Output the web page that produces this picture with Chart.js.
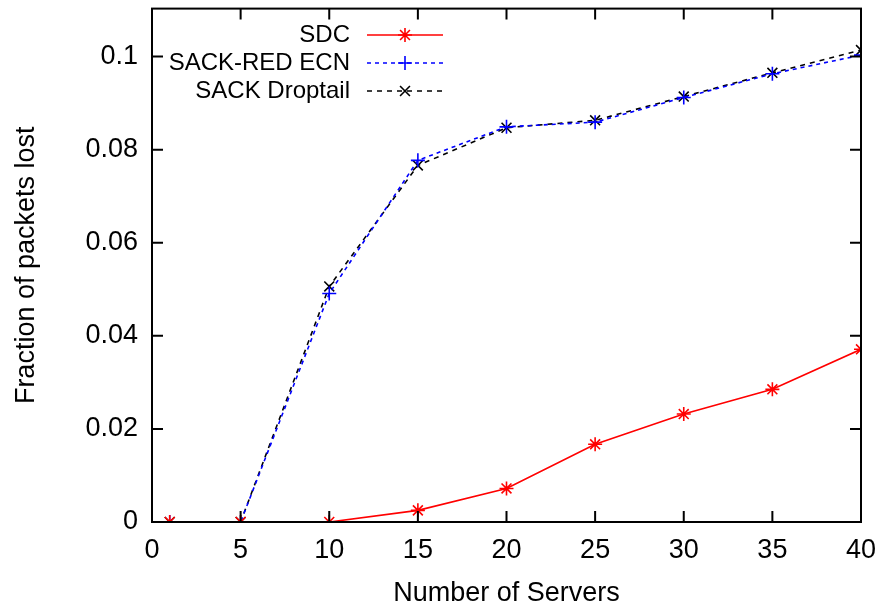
<!DOCTYPE html>
<html>
<head>
<meta charset="utf-8">
<script src="https://cdn.jsdelivr.net/npm/chart.js@4/dist/chart.umd.min.js"></script>
<style>
  html, body { margin: 0; padding: 0; background: #fff; }
  #wrap { width: 880px; height: 610px; }
</style>
</head>
<body>
<div id="wrap"><canvas id="myChart" width="880" height="610"></canvas></div>
<script>
// Data
const servers = [1, 5, 10, 15, 20, 25, 30, 35, 40];
const sdc = [0, 0, 0, 0.0025, 0.0072, 0.0167, 0.0232, 0.0285, 0.0371];
const sackRedEcn = [0, 0, 0.0491, 0.0777, 0.0849, 0.0859, 0.0912, 0.0963, 0.1003];
const sackDroptail = [0, 0, 0.0506, 0.0766, 0.0847, 0.0863, 0.0914, 0.0965, 0.1014];
const xTicks = [0, 5, 10, 15, 20, 25, 30, 35, 40];
const yTicks = [0, 0.02, 0.04, 0.06, 0.08, 0.1];

const FONT = '"Liberation Sans", Arial, sans-serif';

function toPoints(ys) {
    return servers.map((x, i) => ({ x: x, y: ys[i] }));
}

function noPad(s) {
    s.paddingTop = 0; s.paddingBottom = 0;
    s.paddingLeft = 0; s.paddingRight = 0;
}

// frame, inward ticks on all four sides, and the gnuplot style key
const framePlugin = {
    id: 'frame',
    afterDatasetsDraw(chart) {
        const ctx = chart.ctx;
        const a = chart.chartArea;
        const xs = chart.scales.x, ys = chart.scales.y;
        const tl = 11;
        ctx.save();
        ctx.strokeStyle = '#000';
        ctx.lineWidth = 2;
        ctx.setLineDash([]);
        ctx.strokeRect(a.left, a.top, a.right - a.left, a.bottom - a.top);
        ctx.beginPath();
        xTicks.forEach(v => {
            const px = xs.getPixelForValue(v);
            ctx.moveTo(px, a.bottom); ctx.lineTo(px, a.bottom - tl);
            ctx.moveTo(px, a.top); ctx.lineTo(px, a.top + tl);
        });
        yTicks.forEach(v => {
            const py = ys.getPixelForValue(v);
            ctx.moveTo(a.left, py); ctx.lineTo(a.left + tl, py);
            ctx.moveTo(a.right, py); ctx.lineTo(a.right - tl, py);
        });
        ctx.stroke();

        // key
        const textRight = 350, lineL = 367, lineR = 443;
        const rowY = [35, 63, 91];
        ctx.font = '24px ' + FONT;
        ctx.textAlign = 'right';
        ctx.textBaseline = 'middle';
        chart.data.datasets.forEach((ds, i) => {
            const y = rowY[i];
            ctx.fillStyle = '#000';
            ctx.fillText(ds.label, textRight, y);
            ctx.strokeStyle = ds.borderColor;
            ctx.lineWidth = ds.borderWidth;
            ctx.setLineDash(ds.borderDash || []);
            ctx.beginPath();
            ctx.moveTo(lineL, y); ctx.lineTo(lineR, y);
            ctx.stroke();
            ctx.setLineDash([]);
            Chart.helpers.drawPoint(ctx, {
                pointStyle: ds.pointStyle, radius: ds.pointRadius, rotation: 0,
                borderWidth: ds.pointBorderWidth
            }, (lineL + lineR) / 2, y);
        });
        ctx.restore();
    }
};

const ctx = document.getElementById('myChart').getContext('2d');
new Chart(ctx, {
    type: 'line',
    data: {
        datasets: [
            {
                label: 'SDC',
                data: toPoints(sdc),
                borderColor: '#ff0000',
                backgroundColor: '#ff0000',
                borderWidth: 1.6,
                pointStyle: 'star',
                pointRadius: 7,
                pointBorderWidth: 1.6,
                pointBorderColor: '#ff0000'
            },
            {
                label: 'SACK-RED ECN',
                data: toPoints(sackRedEcn),
                borderColor: '#0000ff',
                backgroundColor: '#0000ff',
                borderWidth: 1.6,
                borderDash: [4, 4],
                pointStyle: 'cross',
                pointRadius: 7,
                pointBorderWidth: 1.6,
                pointBorderColor: '#0000ff'
            },
            {
                label: 'SACK Droptail',
                data: toPoints(sackDroptail),
                borderColor: '#000000',
                backgroundColor: '#000000',
                borderWidth: 1.6,
                borderDash: [5, 5],
                pointStyle: 'crossRot',
                pointRadius: 7,
                pointBorderWidth: 1.6,
                pointBorderColor: '#000000'
            }
        ]
    },
    options: {
        responsive: false,
        animation: false,
        layout: { padding: { top: 8, right: 19, left: 0, bottom: 0 } },
        plugins: {
            legend: { display: false },
            tooltip: { enabled: false }
        },
        scales: {
            x: {
                type: 'linear',
                min: 0,
                max: 40,
                afterFit: s => { s.height = 88; noPad(s); },
                afterBuildTicks: s => { s.ticks = xTicks.map(v => ({ value: v })); },
                grid: { display: false, drawTicks: false },
                border: { display: false },
                ticks: {
                    color: '#000',
                    padding: 12,
                    font: { family: FONT, size: 27 },
                    maxRotation: 0
                },
                title: {
                    display: true,
                    text: 'Number of Servers',
                    color: '#000',
                    font: { family: FONT, size: 27 },
                    padding: { top: 0, bottom: 0 }
                }
            },
            y: {
                type: 'linear',
                min: 0,
                max: 0.1103,
                afterFit: s => { s.width = 152; noPad(s); },
                afterBuildTicks: s => { s.ticks = yTicks.map(v => ({ value: v })); },
                grid: { display: false, drawTicks: false },
                border: { display: false },
                ticks: {
                    color: '#000',
                    padding: 14,
                    font: { family: FONT, size: 27 },
                    callback: v => String(Math.round(v * 100) / 100)
                },
                title: {
                    display: true,
                    text: 'Fraction of packets lost',
                    color: '#000',
                    font: { family: FONT, size: 27 },
                    padding: { top: 10, bottom: 0 }
                }
            }
        }
    },
    plugins: [framePlugin]
});
</script>
</body>
</html>
